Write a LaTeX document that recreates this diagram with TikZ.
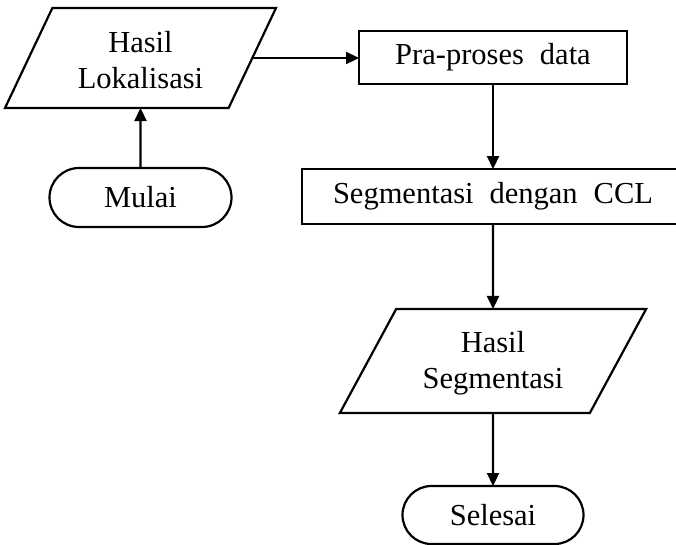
\documentclass[tikz,border=0pt]{standalone}
\usepackage{fontspec}
\setmainfont{Liberation Serif}
\usetikzlibrary{shapes.geometric,shapes.misc,arrows.meta}

\newcommand{\flowfont}{\fontsize{30.5}{36}\selectfont\spaceskip=16pt plus 2pt\relax}

\tikzset{
  base/.style={draw=black, line width=2.2pt, inner sep=0pt, outer sep=0pt,
    align=center, font=\flowfont},
  iobox/.style={base, trapezium, trapezium stretches=true},
  procbox/.style={base, rectangle},
  termbox/.style={base, rounded rectangle},
  flow/.style={line width=2.2pt, -{Triangle[length=13pt,width=12pt]}}
}

\begin{document}
\begin{tikzpicture}[x=1pt, y=-1pt]
  \useasboundingbox (0,0) rectangle (676,544);

  % input / output shapes
  \node[iobox, trapezium left angle=61.6, trapezium right angle=118.4,
        minimum width=271pt, minimum height=100pt] (lok) at (140.5,58) {\rule{0pt}{26pt}Hasil\\Lokalisasi};
  \node[iobox, trapezium left angle=59.2, trapezium right angle=120.8,
        minimum width=307pt, minimum height=104pt] (hs) at (493,361) {\rule{0pt}{26pt}Hasil\\Segmentasi};

  % terminals
  \node[termbox, minimum width=182pt, minimum height=59pt] (mulai) at (140.5,197.5) {Mulai};
  \node[termbox, minimum width=181pt, minimum height=58pt] (sel) at (493,515) {Selesai};

  % processes
  \node[procbox, minimum width=268pt, minimum height=53pt] (pra) at (493,57.5) {Pra-proses data};
  \node[procbox, minimum width=382pt, minimum height=55pt] (seg) at (493,196.5) {Segmentasi dengan CCL};

  % connectors
  \draw[flow] (mulai.north) -- (lok.south);
  \draw[flow] (lok.east) -- (lok.east -| pra.west);
  \draw[flow] (pra.south) -- (seg.north);
  \draw[flow] (seg.south) -- (hs.north);
  \draw[flow] (hs.south) -- (sel.north);
\end{tikzpicture}
\end{document}
